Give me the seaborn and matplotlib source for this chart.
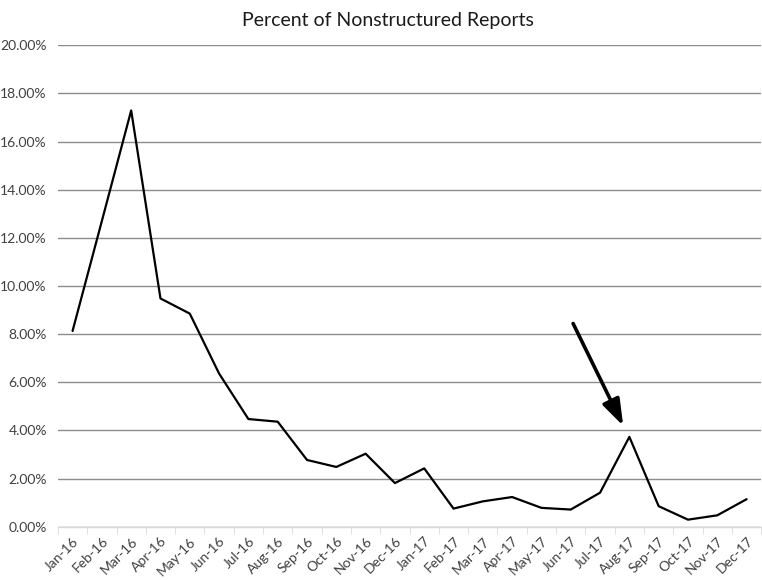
import matplotlib
matplotlib.use('Agg')
import matplotlib.pyplot as plt
from matplotlib.ticker import PercentFormatter, FixedLocator
import seaborn as sns
import pandas as pd

months = ['Jan-16', 'Feb-16', 'Mar-16', 'Apr-16', 'May-16', 'Jun-16',
          'Jul-16', 'Aug-16', 'Sep-16', 'Oct-16', 'Nov-16', 'Dec-16',
          'Jan-17', 'Feb-17', 'Mar-17', 'Apr-17', 'May-17', 'Jun-17',
          'Jul-17', 'Aug-17', 'Sep-17', 'Oct-17', 'Nov-17', 'Dec-17']
percent = [8.13, 12.7, 17.29, 9.48, 8.85, 6.36,
           4.47, 4.36, 2.77, 2.48, 3.03, 1.81,
           2.42, 0.75, 1.05, 1.23, 0.78, 0.71,
           1.41, 3.73, 0.85, 0.29, 0.47, 1.14]

# arrow pointing at the Aug-17 spike (category position, percent)
arrow_start = (17.08, 8.44)
arrow_end = (18.79, 4.19)

df = pd.DataFrame({'month': months, 'pos': range(len(months)), 'percent': percent})

sns.set_style('white')
plt.rcParams['font.family'] = ['Lato', 'DejaVu Sans']

fig = plt.figure(figsize=(7.62, 5.80), dpi=100)
ax = fig.add_axes([0.076, 0.092, 0.923, 0.830])

ax.yaxis.grid(True, color='#8c8c8c', linewidth=1.0)
ax.set_axisbelow(True)
sns.lineplot(data=df, x='pos', y='percent', color='black', linewidth=1.6, ax=ax)

ax.annotate('', xy=arrow_end, xytext=arrow_start,
            arrowprops=dict(arrowstyle='-|>,head_length=1.6,head_width=0.55',
                            color='black', linewidth=2.6, shrinkA=0, shrinkB=0))

ax.set_xlim(-0.5, len(months) - 0.5)
ax.set_ylim(0, 20)
ax.set_yticks(range(0, 21, 2))
ax.yaxis.set_major_formatter(PercentFormatter(decimals=2))
ax.set_xticks(df['pos'])
ax.set_xticklabels(months, rotation=45, ha='right', rotation_mode='anchor')
ax.xaxis.set_minor_locator(FixedLocator([i - 0.5 for i in range(len(months) + 1)]))
ax.tick_params(axis='x', which='major', length=0, pad=6, labelsize=10, labelcolor='#404040')
ax.tick_params(axis='x', which='minor', length=5, color='#d9d9d9', bottom=True)
ax.tick_params(axis='y', length=0, labelsize=10, labelcolor='#404040', pad=8)
ax.set_xlabel('')
ax.set_ylabel('')

for side in ['top', 'right', 'left']:
    ax.spines[side].set_visible(False)
ax.spines['bottom'].set_color('#d9d9d9')
ax.spines['bottom'].set_linewidth(1.0)

ax.set_title('Percent of Nonstructured Reports', fontsize=14, color='#1a1a1a',
             pad=14, x=0.469)

fig.savefig('out.png', dpi=100)
